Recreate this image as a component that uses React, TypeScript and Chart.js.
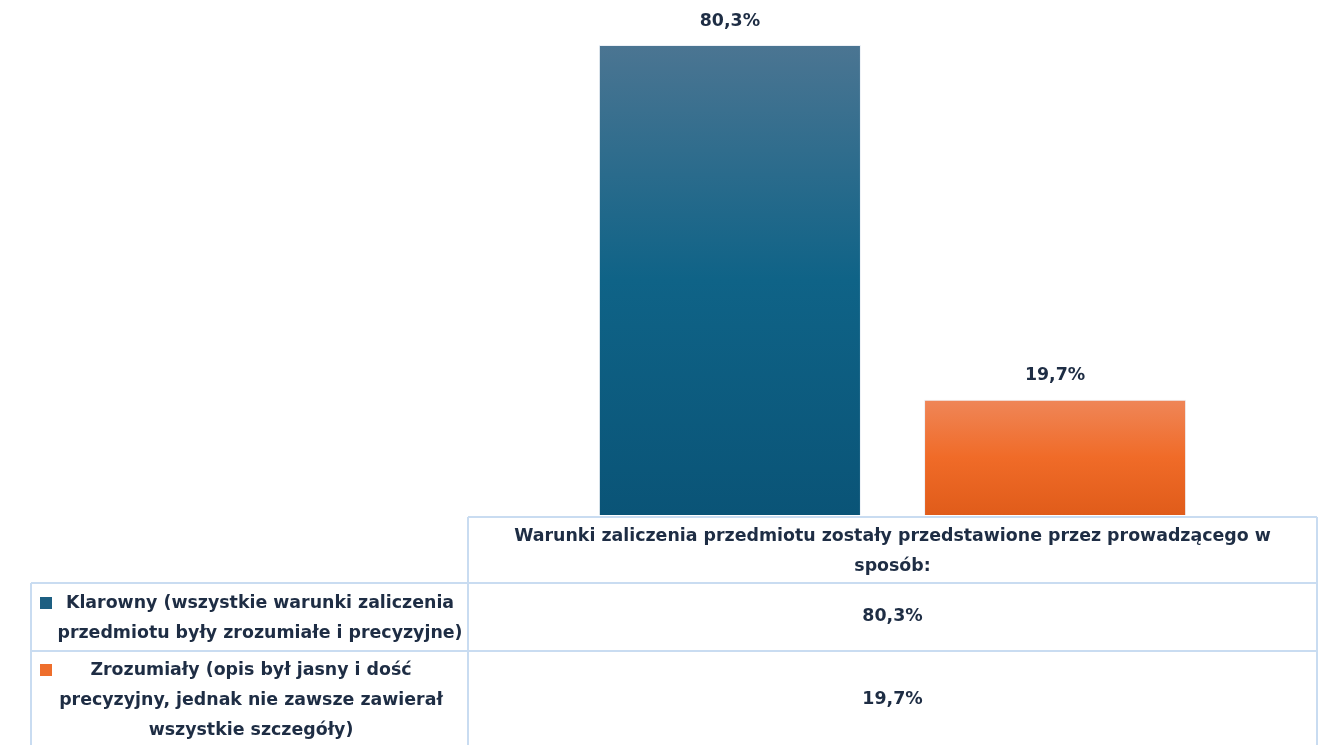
import React, { useEffect, useRef } from "react";
import { Chart, registerables } from "chart.js";

Chart.register(...registerables);

const categories = [
  "Warunki zaliczenia przedmiotu zostały przedstawione przez prowadzącego w\nsposób:",
];
const seriesNames = [
  "Klarowny (wszystkie warunki zaliczenia\nprzedmiotu były zrozumiałe i precyzyjne)",
  "Zrozumiały (opis był jasny i dość\nprecyzyjny, jednak nie zawsze zawierał\nwszystkie szczegóły)",
];
const klarowny = [80.3];
const zrozumialy = [19.7];
const seriesValues = [klarowny, zrozumialy];
const gradientStops = [
  ["#4b7592", "#0f6387", "#0a5477"],
  ["#ef8658", "#f06b28", "#e05c1a"],
];
const legendColors = ["#1d5f82", "#ee6e2c"];

const TEXT = "#1e2d44";
const BORDER = "#c9dcf1";
const FONT = "'DejaVu Sans', sans-serif";

const fmt = (v: number) => v.toFixed(1).replace(".", ",") + "%";

const tablePlugin = {
  id: "dataTable",
  afterDraw(chart: any) {
    const ctx = chart.ctx;
    const area = chart.chartArea;
    const H = chart.height;
    const left = area.left;
    const right = area.right;
    const top = area.bottom + 2;
    const row1 = top + 66;
    const row2 = row1 + 68;
    const legendLeft = 31;
    ctx.save();
    ctx.strokeStyle = BORDER;
    ctx.lineWidth = 2;
    ctx.beginPath();
    ctx.moveTo(left, top); ctx.lineTo(right, top);
    ctx.moveTo(legendLeft, row1); ctx.lineTo(right, row1);
    ctx.moveTo(legendLeft, row2); ctx.lineTo(right, row2);
    ctx.moveTo(left, top); ctx.lineTo(left, H);
    ctx.moveTo(right, top); ctx.lineTo(right, H);
    ctx.moveTo(legendLeft, row1); ctx.lineTo(legendLeft, H);
    ctx.stroke();

    ctx.fillStyle = TEXT;
    ctx.textAlign = "center";
    ctx.textBaseline = "middle";
    const cx = chart.scales.x.getPixelForValue(0);
    ctx.font = `bold 17.4px ${FONT}`;
    const hLines = categories[0].split("\n");
    hLines.forEach((l, i) => ctx.fillText(l, cx, top + 19 + i * 30));
    const rowTops = [row1, row2];
    const textCenters = [260, 251];
    seriesNames.forEach((name, si) => {
      const lines = name.split("\n");
      const lh = 30;
      const startY = si === 0 ? rowTops[si] + 20 : rowTops[si] + 19;
      ctx.font = `bold 17.4px ${FONT}`;
      lines.forEach((l, i) => ctx.fillText(l, textCenters[si], startY + i * lh));
      ctx.fillStyle = legendColors[si];
      ctx.fillRect(40, startY - 6, 12, 12);
      ctx.fillStyle = TEXT;
      const vy = si === 0 ? rowTops[si] + 33 : rowTops[si] + 48;
      ctx.fillText(fmt(seriesValues[si][0]), cx, vy);
    });
    ctx.font = `bold 17.4px ${FONT}`;
    chart.data.datasets.forEach((ds: any, di: number) => {
      const meta = chart.getDatasetMeta(di);
      meta.data.forEach((bar: any, j: number) => {
        ctx.fillText(fmt(ds.data[j]), bar.x, bar.y - 24);
      });
    });
    ctx.restore();
  },
};

export default function App() {
  const ref = useRef<HTMLCanvasElement>(null);
  useEffect(() => {
    document.body.style.margin = "0";
    const canvas = ref.current!;
    const chart = new Chart(canvas, {
      type: "bar",
      data: {
        labels: categories,
        datasets: seriesValues.map((vals, si) => ({
          label: seriesNames[si],
          data: vals,
          borderColor: "rgba(235,240,246,0.9)",
          borderWidth: 1,
          backgroundColor: (c: any) => {
            const chartObj = c.chart;
            const y = chartObj.scales?.y;
            if (!y || c.dataIndex === undefined) return gradientStops[si][1];
            const yTop = y.getPixelForValue(vals[c.dataIndex] ?? 0);
            const yBot = y.getPixelForValue(0);
            if (!isFinite(yTop) || !isFinite(yBot) || yTop === yBot) return gradientStops[si][1];
            const g = chartObj.ctx.createLinearGradient(0, yTop, 0, yBot);
            g.addColorStop(0, gradientStops[si][0]);
            g.addColorStop(0.5, gradientStops[si][1]);
            g.addColorStop(1, gradientStops[si][2]);
            return g;
          },
          categoryPercentage: 0.766,
          barPercentage: 0.806,
        })),
      },
      options: {
        animation: false,
        responsive: false,
        devicePixelRatio: 1,
        layout: { padding: { left: 468, right: 2, top: 0, bottom: 230 } },
        scales: {
          x: { display: false },
          y: { display: false, min: 0, max: 88 },
        },
        plugins: {
          legend: { display: false },
          tooltip: { enabled: false },
        },
      },
      plugins: [tablePlugin],
    });
    return () => chart.destroy();
  }, []);
  return (
    <div style={{ width: 1319, height: 745, background: "#fff" }}>
      <canvas ref={ref} width={1319} height={745} />
    </div>
  );
}
